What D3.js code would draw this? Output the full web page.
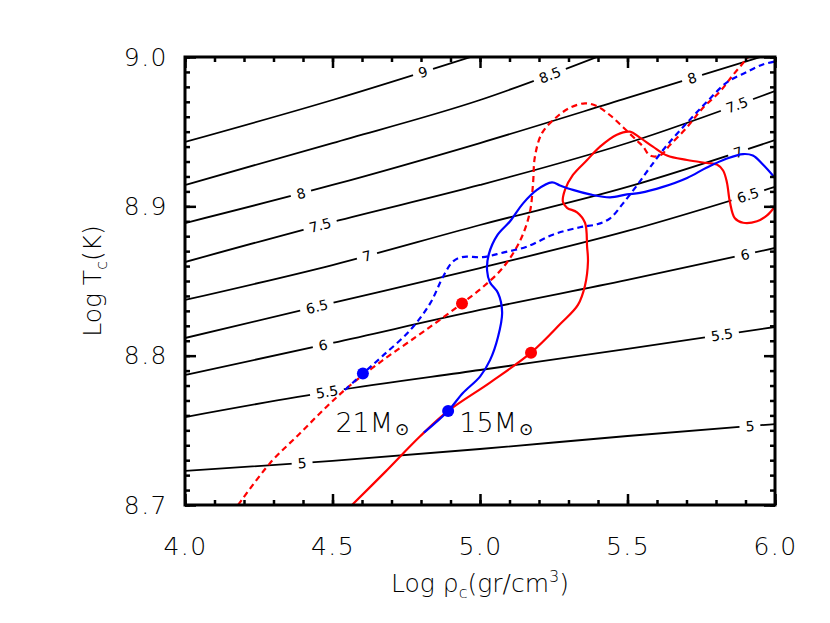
<!DOCTYPE html>
<html>
<head>
<meta charset="utf-8">
<script src="https://cdn.jsdelivr.net/npm/d3@7/dist/d3.min.js"></script>
<style>
  body { margin: 0; background: #fff; }
  text { font-family: "DejaVu Sans", "Liberation Sans", sans-serif; font-weight: 200; }
</style>
</head>
<body>
<div id="chart"></div>
<script>
// axis ticks
const xTicks = [4.0, 4.5, 5.0, 5.5, 6.0];
const yTicks = [8.7, 8.8, 8.9, 9.0];

// contour lines (black), y read at x = 4.0, 4.5, 5.0, 5.5, 6.0
const contourX = [4.0, 4.5, 5.0, 5.5, 6.0];
const contourLevels = ["5", "5.5", "6", "6.5", "7", "7.5", "8", "8.5", "9"];
const contourValues = [
    [8.7228, 8.7295, 8.7375, 8.7462, 8.7542],
    [8.7589, 8.7763, 8.7904, 8.8045, 8.8192],
    [8.7871, 8.8085, 8.8306, 8.8507, 8.8721],
    [8.8118, 8.8353, 8.8587, 8.8835, 8.9130],
    [8.8373, 8.8607, 8.8875, 8.9130, 8.9444],
    [8.8627, 8.8895, 8.9143, 8.9424, 8.9772],
    [8.8888, 8.9143, 8.9424, 8.9726, 9.0030],
    [8.9143, 8.9424, 8.9712, 9.0080],
    [8.9431, 8.9712, 9.0020]
];
// where the level labels sit along each contour (log rho)
const contourLabelAt = [
    [4.397, 5.915], [4.481, 5.820], [4.468, 5.898], [4.447, 5.908],
    [4.617, 5.875], [4.458, 5.871], [4.393, 5.719], [5.237], [4.807]
];

// tracks [log rho_c, log T_c]
const redSolid = [
    [4.566, 8.700], [4.678, 8.722], [4.797, 8.746], [4.892, 8.763], [5.034, 8.782],
    [5.173, 8.802], [5.271, 8.821], [5.332, 8.834], [5.356, 8.847], [5.366, 8.863],
    [5.363, 8.873], [5.356, 8.889], [5.329, 8.896], [5.295, 8.899], [5.281, 8.903],
    [5.288, 8.911], [5.315, 8.921], [5.363, 8.931], [5.407, 8.940], [5.464, 8.948],
    [5.508, 8.950], [5.542, 8.946], [5.586, 8.940], [5.634, 8.934], [5.702, 8.931],
    [5.769, 8.929], [5.803, 8.928], [5.824, 8.924], [5.837, 8.916], [5.847, 8.903],
    [5.864, 8.892], [5.892, 8.889], [5.939, 8.890], [5.973, 8.894], [6.000, 8.900]
];
const blueSolid = [
    [4.810, 8.7485], [4.892, 8.763], [4.942, 8.775], [5.000, 8.786], [5.034, 8.797],
    [5.061, 8.8125], [5.075, 8.829], [5.061, 8.842], [5.034, 8.849], [5.024, 8.857],
    [5.030, 8.868], [5.060, 8.881], [5.102, 8.890], [5.146, 8.902], [5.193, 8.911],
    [5.244, 8.916], [5.271, 8.914], [5.315, 8.911], [5.373, 8.908], [5.441, 8.906],
    [5.498, 8.908], [5.542, 8.909], [5.620, 8.913], [5.702, 8.919], [5.769, 8.926],
    [5.837, 8.932], [5.892, 8.935], [5.925, 8.934], [5.959, 8.928], [6.000, 8.919]
];
const redDashed = [
    [4.180, 8.700], [4.288, 8.728], [4.390, 8.748], [4.481, 8.766], [4.559, 8.780],
    [4.671, 8.797], [4.786, 8.813], [4.864, 8.824], [4.939, 8.835], [5.010, 8.846],
    [5.078, 8.859], [5.136, 8.877], [5.169, 8.896], [5.180, 8.916], [5.186, 8.933],
    [5.210, 8.949], [5.261, 8.960], [5.305, 8.966], [5.356, 8.969], [5.397, 8.967],
    [5.441, 8.961], [5.485, 8.953], [5.532, 8.944], [5.553, 8.940], [5.576, 8.934],
    [5.610, 8.934], [5.644, 8.941], [5.702, 8.953], [5.756, 8.966], [5.814, 8.977],
    [5.858, 8.988], [5.905, 8.999], [5.922, 9.003]
];
const blueDashed = [
    [4.542, 8.777], [4.603, 8.788], [4.671, 8.800], [4.763, 8.817], [4.831, 8.835],
    [4.875, 8.853], [4.908, 8.863], [4.939, 8.866], [5.010, 8.866], [5.078, 8.869],
    [5.159, 8.873], [5.247, 8.881], [5.339, 8.886], [5.397, 8.888], [5.441, 8.892],
    [5.485, 8.902], [5.532, 8.914], [5.576, 8.926], [5.634, 8.941], [5.702, 8.956],
    [5.769, 8.970], [5.837, 8.983], [5.905, 8.990], [5.959, 8.995], [6.000, 8.997]
];

// marked points
const blueDots = [[4.603, 8.788], [4.892, 8.763]];
const redDots = [[4.939, 8.835], [5.173, 8.802]];

// mass labels: text, anchor point [log rho, log T]
const massLabels = [["21", 4.51, 8.749], ["15", 4.93, 8.749]];

//dimensions
let dimensions = {
    width: 830,
    height: 623,
    margin: { top: 57, right: 55, bottom: 118, left: 185 }
};
dimensions.boundW = dimensions.width - dimensions.margin.left - dimensions.margin.right;
dimensions.boundH = dimensions.height - dimensions.margin.top - dimensions.margin.bottom;

const svg = d3.select('#chart').append('svg')
    .attr('width', dimensions.width)
    .attr('height', dimensions.height);

const xScale = d3.scaleLinear()
    .domain([4.0, 6.0])
    .range([dimensions.margin.left, dimensions.margin.left + dimensions.boundW]);
const yScale = d3.scaleLinear()
    .domain([8.7, 9.0])
    .range([dimensions.margin.top + dimensions.boundH, dimensions.margin.top]);

svg.append('clipPath').attr('id', 'plotclip')
    .append('rect')
    .attr('x', dimensions.margin.left).attr('y', dimensions.margin.top)
    .attr('width', dimensions.boundW).attr('height', dimensions.boundH);

const plot = svg.append('g').attr('clip-path', 'url(#plotclip)');

// contours
const contourLine = d3.line()
    .curve(d3.curveMonotoneX)
    .x(d => xScale(d[0]))
    .y(d => yScale(d[1]));

const contourPaths = contourValues.map((vals, i) => {
    const pts = vals.map((v, j) => [contourX[j], v]);
    return plot.append('path')
        .attr('d', contourLine(pts))
        .attr('fill', 'none')
        .attr('stroke', '#000')
        .attr('stroke-width', 1.8);
});

// point on a path at a given pixel x
function pointAtX(node, px) {
    const len = node.getTotalLength();
    let lo = 0, hi = len;
    for (let k = 0; k < 40; k++) {
        const mid = (lo + hi) / 2;
        if (node.getPointAtLength(mid).x < px) lo = mid; else hi = mid;
    }
    const p = node.getPointAtLength(lo);
    const a = node.getPointAtLength(Math.max(0, lo - 5));
    const b = node.getPointAtLength(Math.min(len, lo + 5));
    return { x: p.x, y: p.y, ang: Math.atan2(b.y - a.y, b.x - a.x) * 180 / Math.PI };
}

// contour labels with a white gap
const labelLayer = plot.append('g');
contourLabelAt.forEach((xs, i) => {
    xs.forEach(lx => {
        const p = pointAtX(contourPaths[i].node(), xScale(lx));
        const g = labelLayer.append('g')
            .attr('transform', `translate(${p.x},${p.y}) rotate(${p.ang})`);
        const t = g.append('text')
            .attr('text-anchor', 'middle')
            .attr('dy', '0.36em')
            .style('font-size', '14px')
            .style('font-weight', 400)
            .text(contourLevels[i]);
        const w = t.node().getComputedTextLength();
        g.insert('rect', 'text')
            .attr('x', -w / 2 - 6).attr('y', -5)
            .attr('width', w + 12).attr('height', 10)
            .attr('fill', '#fff');
    });
});

// tracks
const trackLine = d3.line()
    .curve(d3.curveCatmullRom.alpha(0.5))
    .x(d => xScale(d[0]))
    .y(d => yScale(d[1]));

const tracks = [
    [redDashed, 'red', '6,4'],
    [redSolid, 'red', null],
    [blueDashed, 'blue', '6,4'],
    [blueSolid, 'blue', null]
];
tracks.forEach(([data, col, dash]) => {
    plot.append('path')
        .attr('d', trackLine(data))
        .attr('fill', 'none')
        .attr('stroke', col)
        .attr('stroke-width', 2.2)
        .attr('stroke-dasharray', dash);
});

plot.selectAll('.rdot').data(redDots).join('circle')
    .attr('cx', d => xScale(d[0])).attr('cy', d => yScale(d[1]))
    .attr('r', 6).attr('fill', 'red');
plot.selectAll('.bdot').data(blueDots).join('circle')
    .attr('cx', d => xScale(d[0])).attr('cy', d => yScale(d[1]))
    .attr('r', 6).attr('fill', 'blue');

// mass labels
massLabels.forEach(([num, lx, ly]) => {
    const t = svg.append('text')
        .attr('x', xScale(lx)).attr('y', yScale(ly))
        .style('font-size', '27px');
    t.append('tspan').text(num + 'M');
    t.append('tspan').attr('dx', 2).attr('dy', 3).style('font-size', '17px').text('\u2299');
});

// axes: ticks inward on all four sides
const bottomY = dimensions.margin.top + dimensions.boundH;
const rightX = dimensions.margin.left + dimensions.boundW;
const xMinor = d3.range(40, 61).map(d => d / 10);
const yMinor = d3.range(870, 901).map(d => d / 100);

function styleAxis(g) {
    g.select('.domain').remove();
    g.selectAll('line').attr('stroke', '#000').attr('stroke-width', 2.5);
    g.selectAll('text')
        .style('font-size', '25px')
        .style('letter-spacing', '1.5px')
        .attr('fill', '#000');
}

svg.append('g').attr('transform', `translate(0,${bottomY})`)
    .call(d3.axisBottom(xScale).tickValues(xMinor).tickSize(-5).tickFormat(''))
    .call(styleAxis);
svg.append('g').attr('transform', `translate(0,${bottomY})`)
    .call(d3.axisBottom(xScale).tickValues(xTicks).tickSizeInner(-11).tickSizeOuter(0)
        .tickPadding(32).tickFormat(d3.format('.1f')))
    .call(styleAxis);
svg.append('g').attr('transform', `translate(0,${dimensions.margin.top})`)
    .call(d3.axisTop(xScale).tickValues(xMinor).tickSize(-5).tickFormat(''))
    .call(styleAxis);
svg.append('g').attr('transform', `translate(0,${dimensions.margin.top})`)
    .call(d3.axisTop(xScale).tickValues(xTicks).tickSize(-11).tickFormat(''))
    .call(styleAxis);

svg.append('g').attr('transform', `translate(${dimensions.margin.left},0)`)
    .call(d3.axisLeft(yScale).tickValues(yMinor).tickSize(-5).tickFormat(''))
    .call(styleAxis);
svg.append('g').attr('transform', `translate(${dimensions.margin.left},0)`)
    .call(d3.axisLeft(yScale).tickValues(yTicks).tickSizeInner(-11).tickSizeOuter(0)
        .tickPadding(17).tickFormat(d3.format('.1f')))
    .call(styleAxis);
svg.append('g').attr('transform', `translate(${rightX},0)`)
    .call(d3.axisRight(yScale).tickValues(yMinor).tickSize(-5).tickFormat(''))
    .call(styleAxis);
svg.append('g').attr('transform', `translate(${rightX},0)`)
    .call(d3.axisRight(yScale).tickValues(yTicks).tickSize(-11).tickFormat(''))
    .call(styleAxis);

// frame
svg.append('rect')
    .attr('x', dimensions.margin.left).attr('y', dimensions.margin.top)
    .attr('width', dimensions.boundW).attr('height', dimensions.boundH)
    .attr('fill', 'none').attr('stroke', '#000').attr('stroke-width', 3);

// axis titles
const xTitle = svg.append('text')
    .attr('x', dimensions.margin.left + dimensions.boundW / 2)
    .attr('y', 592)
    .attr('text-anchor', 'middle')
    .style('font-size', '25px');
xTitle.append('tspan').text('Log \u03C1');
xTitle.append('tspan').attr('dy', 6).style('font-size', '16px').text('c');
xTitle.append('tspan').attr('dy', -6).text('(gr/cm');
xTitle.append('tspan').attr('dy', -10).style('font-size', '16px').text('3');
xTitle.append('tspan').attr('dy', 10).text(')');

const yTitle = svg.append('text')
    .attr('transform', `translate(101,${dimensions.margin.top + dimensions.boundH / 2}) rotate(-90)`)
    .attr('text-anchor', 'middle')
    .style('font-size', '25px');
yTitle.append('tspan').text('Log T');
yTitle.append('tspan').attr('dy', 6).style('font-size', '16px').text('c');
yTitle.append('tspan').attr('dy', -6).text('(K)');
</script>
</body>
</html>
